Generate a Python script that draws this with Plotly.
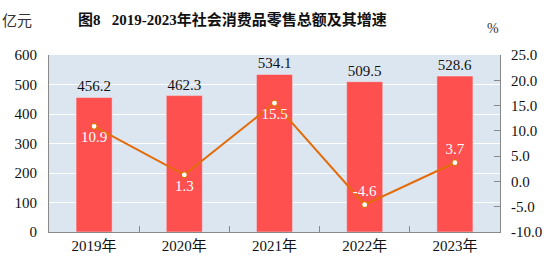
import plotly.graph_objects as go

years = ["2019年", "2020年", "2021年", "2022年", "2023年"]
sales = [456.2, 462.3, 534.1, 509.5, 528.6]
growth = [10.9, 1.3, 15.5, -4.6, 3.7]
left_ticks = [0, 100, 200, 300, 400, 500, 600]
right_ticks = [-10, -5, 0, 5, 10, 15, 20, 25]

FONT = "Liberation Serif, Noto Sans CJK SC, serif"
SERIF = "Liberation Serif"

fig = go.Figure()
fig.add_trace(go.Bar(
    x=years, y=sales, marker_color="#FF5050", width=0.4,
    text=[f"{v:.1f}" for v in sales], textposition="outside",
    textfont=dict(family=SERIF, size=15, color="#111"),
    cliponaxis=False, showlegend=False,
))
fig.add_trace(go.Scatter(
    x=years, y=growth, yaxis="y2", mode="lines+markers+text",
    line=dict(color="#E36C0A", width=2),
    marker=dict(symbol="circle", size=6, color="white", line=dict(color="#E36C0A", width=1.2)),
    text=[f"{v:.1f}" for v in growth],
    textposition=["bottom center", "bottom center", "bottom center", "top center", "top center"],
    textfont=dict(family=SERIF, size=15, color="white"),
    cliponaxis=False, showlegend=False,
))

fig.update_layout(
    width=554, height=277,
    margin=dict(l=49, r=54, t=55, b=45),
    paper_bgcolor="white", plot_bgcolor="#DCE6F1",
    font=dict(family=FONT, size=13, color="#111"),
    xaxis=dict(
        showline=True, linecolor="#888", linewidth=1,
        ticks="inside", tickson="boundaries", ticklen=6, tickcolor="#888",
        tickfont=dict(family=FONT, size=15, color="#111"), showgrid=False, mirror=False,
    ),
    yaxis=dict(
        range=[0, 600], tickvals=left_ticks, ticktext=[str(v) for v in left_ticks],
        showline=True, linecolor="#888", linewidth=1,
        showgrid=True, gridcolor="white", gridwidth=1, zeroline=False,
        ticks="", ticklabelstandoff=8, tickfont=dict(family=SERIF, size=15, color="#111"),
    ),
    yaxis2=dict(
        range=[-10, 25], tickvals=right_ticks, ticktext=[f"{v:.1f}" for v in right_ticks],
        overlaying="y", side="right",
        showline=True, linecolor="#888", linewidth=1,
        ticks="inside", ticklen=6, tickcolor="#888",
        showgrid=False, zeroline=False, ticklabelstandoff=7,
        tickfont=dict(family=SERIF, size=15, color="#111"),
    ),
    bargap=0.6,
    annotations=[
        dict(text="<b>图8   2019-2023年社会消费品零售总额及其增速</b>", xref="paper", yref="paper",
             x=0.059, y=1.0, xanchor="left", yanchor="bottom", yshift=25,
             showarrow=False, font=dict(family=FONT, size=15, color="#111")),
        dict(text="亿元", xref="paper", yref="paper", x=-0.108, y=1.0, xanchor="left",
             yanchor="bottom", yshift=24, showarrow=False, font=dict(family=FONT, size=15, color="#333")),
        dict(text="%", xref="paper", yref="paper", x=1.0, y=1.0, xanchor="left",
             yanchor="bottom", xshift=-15, yshift=17, showarrow=False, font=dict(family=SERIF, size=14, color="#333")),
    ],
)

fig.write_html("out.html")
